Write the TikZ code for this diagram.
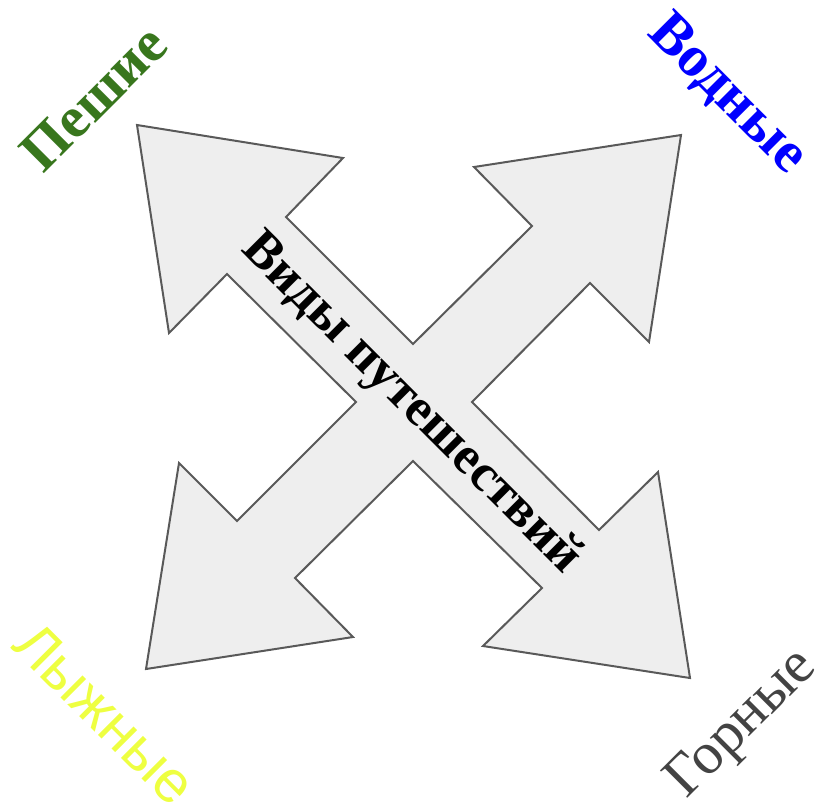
\documentclass[tikz,border=0pt]{standalone}
\usepackage{fontspec}
\setmainfont{Liberation Serif}
\newfontfamily\arialfont{Liberation Sans}
\usepackage{xcolor}
\usepackage{tikz}
\usetikzlibrary{positioning}

\definecolor{peshgreen}{HTML}{38761D}
\definecolor{lyzhyellow}{HTML}{EEFF41}
\definecolor{gorgray}{HTML}{434343}
\definecolor{arrowfill}{HTML}{EEEEEE}
\definecolor{arrowline}{HTML}{595959}

\begin{document}
\begin{tikzpicture}[x=0.5pt, y=-0.5pt,
    bigtitle/.style={font=\fontsize{29}{34}\selectfont\bfseries, inner sep=0pt},
    thintitle/.style={font=\arialfont\fontsize{29.5}{34}\selectfont, inner sep=0pt},
    seriftitle/.style={font=\fontsize{29.5}{35}\selectfont, inner sep=0pt}]

\useasboundingbox (0,0) rectangle (817,805);

% Cross of arrows
\draw[fill=arrowfill, draw=arrowline, line width=1pt, line join=miter]
  (137,125) -- (343,158) -- (286,217) -- (413,344) -- (532,226) -- (474,167)
  -- (681,135) -- (649,342) -- (590,283) -- (472,402) -- (599,530) -- (658,472)
  -- (690,678) -- (483,646) -- (542,588) -- (413,461) -- (295,578) -- (353,637)
  -- (146,669) -- (179,463) -- (237,521) -- (356,402) -- (227,274) -- (169,333)
  -- cycle;

% Title along the diagonal
\node[bigtitle, font=\fontsize{26.3}{31}\selectfont\bfseries, rotate=-45] (vidy) at (411,404) {Виды путешествий};

% Corner labels
\node[bigtitle, rotate=45, text=peshgreen] (peshie) at (94,98) {Пешие};
\node[bigtitle, rotate=-45, text=blue] (vodnye) at (727,95) {Водные};
\node[thintitle, rotate=-45, text=lyzhyellow] (lyzhnye) at (105,714) {Лыжные};
\node[seriftitle, rotate=45, text=gorgray] (gornye) at (743,725) {Горные};

\end{tikzpicture}
\end{document}
